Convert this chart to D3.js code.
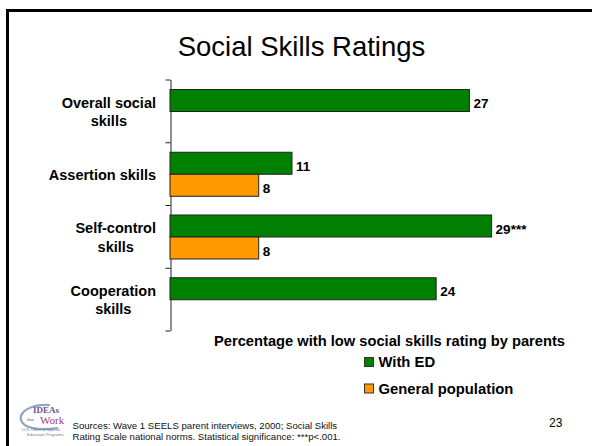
<!DOCTYPE html>
<html>
<head>
<meta charset="utf-8">
<script src="https://cdn.jsdelivr.net/npm/d3@7"></script>
<style>
  body { margin: 0; background: #fff; }
  svg { display: block; font-family: Arial, "Liberation Sans", sans-serif; }
</style>
</head>
<body>
<div id="chart"></div>
<script>
const categories = ['Overall social skills', 'Assertion skills', 'Self-control skills', 'Cooperation skills'];
const categoryLines = [['Overall social', 'skills'], ['Assertion skills'], ['Self-control', 'skills'], ['Cooperation', 'skills']];
const seriesNames = ['With ED', 'General population'];
const withED = [27, 11, 29, 24];
const generalPop = [null, 8, 8, null];
const withEDLabels = ['27', '11', '29***', '24'];
const generalPopLabels = ['', '8', '8', ''];

const W = 592, H = 446;
const colors = ['#008000', '#ff9900'];

const svg = d3.select('#chart').append('svg')
    .attr('width', W)
    .attr('height', H);

svg.append('rect').attr('width', W).attr('height', H).attr('fill', '#fff');

// slide frame, runs off the right and bottom edges
svg.append('rect')
    .attr('x', 7.5).attr('y', 10.5)
    .attr('width', 700).attr('height', 600)
    .attr('fill', 'none')
    .attr('stroke', '#000')
    .attr('stroke-width', 3);

svg.append('text')
    .attr('x', 301.5).attr('y', 56)
    .attr('text-anchor', 'middle')
    .style('font-size', '27.5px')
    .text('Social Skills Ratings');

const x = d3.scaleLinear().domain([0, 30]).range([170, 502.7]);
const y = d3.scaleBand().domain(categories).range([79.5, 330.5]);
const ySub = d3.scaleBand().domain(seriesNames).range([10, 54]);

// category axis with ticks between the bands
const yEdges = d3.scaleLinear().domain([0, categories.length]).range([79.5, 330.5]);
svg.append('g')
    .attr('transform', 'translate(170.5,0)')
    .call(d3.axisLeft(yEdges).tickValues(d3.range(categories.length + 1)).tickFormat('').tickSize(5).tickSizeOuter(0))
    .call(g => g.selectAll('path, line').attr('stroke', '#222'));

const series = [
    {name: seriesNames[0], values: withED, labels: withEDLabels, color: colors[0]},
    {name: seriesNames[1], values: generalPop, labels: generalPopLabels, color: colors[1]}
];

series.forEach(s => {
    const rows = categories.map((c, i) => ({c, v: s.values[i], label: s.labels[i]})).filter(d => d.v != null);
    const g = svg.append('g');
    g.selectAll('rect').data(rows).join('rect')
        .attr('x', x(0))
        .attr('y', d => y(d.c) + ySub(s.name))
        .attr('width', d => x(d.v) - x(0))
        .attr('height', ySub.bandwidth())
        .attr('fill', s.color)
        .attr('stroke', '#222')
        .attr('stroke-width', 1);
    g.selectAll('text').data(rows).join('text')
        .attr('x', d => x(d.v) + 4)
        .attr('y', d => y(d.c) + ySub(s.name) + ySub.bandwidth() / 2 + 7.5)
        .style('font-size', '13.5px')
        .style('font-weight', 'bold')
        .text(d => d.label);
});

// category labels: block right-aligned, lines centred inside it
categories.forEach((c, i) => {
    const lines = categoryLines[i];
    const lh = 18.3;
    const g = svg.append('g');
    const texts = lines.map((t, j) => g.append('text')
        .attr('y', y(c) + y.bandwidth() / 2 + 6 - (lines.length - 1) * lh / 2 + j * lh)
        .attr('text-anchor', 'middle')
        .style('font-size', '14.5px')
        .style('font-weight', 'bold')
        .text(t));
    const maxW = d3.max(texts, t => t.node().getComputedTextLength());
    texts.forEach(t => t.attr('x', 156 - maxW / 2));
});

// legend
svg.append('text')
    .attr('x', 214).attr('y', 346)
    .style('font-size', '14.7px')
    .style('font-weight', 'bold')
    .text('Percentage with low social skills rating by parents');

const legend = svg.append('g');
seriesNames.forEach((n, i) => {
    const ly = 357 + i * 26.5;
    legend.append('rect')
        .attr('x', 364.5).attr('y', ly + 0.5)
        .attr('width', 9).attr('height', 9)
        .attr('fill', colors[i])
        .attr('stroke', '#333');
    legend.append('text')
        .attr('x', 378.5).attr('y', ly + 10)
        .style('font-size', '14.8px')
        .style('font-weight', 'bold')
        .text(n);
});

// footer
const foot = svg.append('g').style('font-size', '9.6px').attr('fill', '#111');
foot.append('text').attr('x', 72.5).attr('y', 428.5).text('Sources: Wave 1 SEELS parent interviews, 2000; Social Skills');
foot.append('text').attr('x', 72.5).attr('y', 439.5).text('Rating Scale national norms. Statistical significance: ***p<.001.');

svg.append('text')
    .attr('x', 549).attr('y', 427)
    .style('font-size', '12px')
    .text('23');

// IDEAs that Work logo (rough)
const logo = svg.append('g');
logo.append('path')
    .attr('d', 'M50,405 C30,404 19,412 21,420 C23,428 38,431 58,428')
    .attr('fill', 'none')
    .attr('stroke', '#8fa6c4')
    .attr('stroke-width', 2.2);
logo.append('text').attr('x', 33).attr('y', 413)
    .style('font-family', '"Liberation Serif", serif').style('font-size', '9px').style('font-weight', 'bold')
    .attr('fill', '#7a4a8c').text('IDEAs');
logo.append('text').attr('x', 27).attr('y', 421)
    .style('font-family', '"Liberation Serif", serif').style('font-size', '4.5px')
    .attr('fill', '#556').text('that');
logo.append('text').attr('x', 40).attr('y', 424)
    .style('font-family', '"Liberation Serif", serif').style('font-size', '11px')
    .attr('fill', '#9a3b7a').text('Work');
logo.append('text').attr('x', 22).attr('y', 431)
    .style('font-size', '4px').attr('fill', '#6b7b95').text('U.S. Office of Special');
logo.append('text').attr('x', 27).attr('y', 436)
    .style('font-size', '4px').attr('fill', '#6b7b95').text('Education Programs');
</script>
</body>
</html>
